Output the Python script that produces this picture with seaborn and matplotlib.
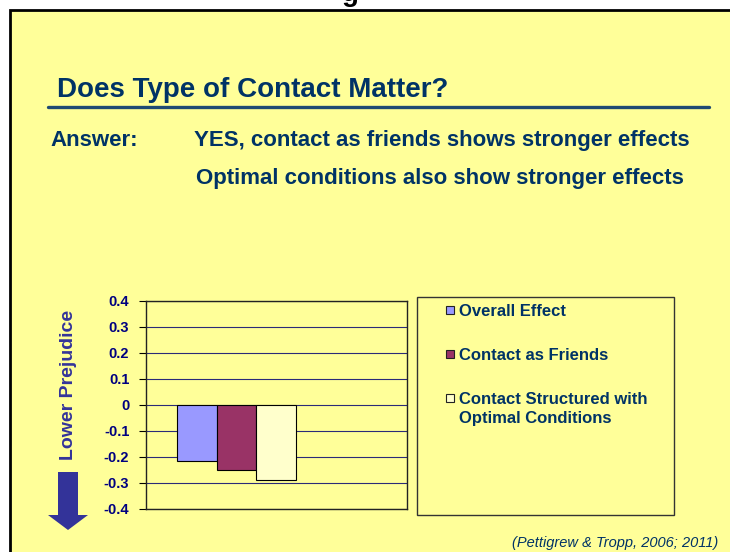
import numpy as np
import pandas as pd
import matplotlib
matplotlib.use('Agg')
import matplotlib.pyplot as plt
import seaborn as sns
from matplotlib.patches import Rectangle, Polygon
from matplotlib.lines import Line2D

# data
series = ['Overall Effect', 'Contact as Friends',
          'Contact Structured with Optimal Conditions']
legend_labels = ['Overall Effect', 'Contact as Friends',
                 'Contact Structured with\nOptimal Conditions']
values = [-0.215, -0.25, -0.29]
bar_colors = ['#9999FF', '#993366', '#FFFFCC']
y_ticks = [0.4, 0.3, 0.2, 0.1, 0.0, -0.1, -0.2, -0.3, -0.4]
y_tick_labels = ['0.4', '0.3', '0.2', '0.1', '0', '-0.1', '-0.2', '-0.3', '-0.4']

sns.set_style('white')
plt.rcParams['font.family'] = ['Liberation Sans', 'DejaVu Sans']

W, H = 730, 552
def fx(px):
    return px / W
def fy(py):
    return 1 - py / H

navy = '#003366'
yellow = '#FFFF99'

fig = plt.figure(figsize=(7.3, 5.52), dpi=100, facecolor='white')

# slide background with black left/top border
fig.add_artist(Rectangle((fx(10), -0.1), 1.2, fy(10) + 0.1, transform=fig.transFigure,
                         facecolor=yellow, edgecolor='black', lw=2, zorder=-2))

# cut-off glyph at the top of the page (only its lower part shows)
fig.text(fx(342), fy(1), 'g', fontsize=20, weight='bold', color='black', va='baseline')

# heading and rule
fig.text(fx(57), fy(97), 'Does Type of Contact Matter?', fontsize=20, weight='bold',
         color=navy, va='baseline')
fig.add_artist(Line2D([fx(48), fx(709)], [fy(107), fy(107)], color='#1f4a73', lw=2.4))

fig.text(fx(50), fy(146), 'Answer:', fontsize=16, weight='bold', color=navy, va='baseline')
fig.text(fx(194), fy(146), 'YES, contact as friends shows stronger effects', fontsize=16,
         weight='bold', color=navy, va='baseline')
fig.text(fx(196), fy(184), 'Optimal conditions also show stronger effects', fontsize=16,
         weight='bold', color=navy, va='baseline')

# chart
df = pd.DataFrame({'group': [''] * len(series), 'series': series, 'value': values})
ax = fig.add_axes([fx(146), fy(509), (407 - 146) / W, (509 - 300.7) / H])
ax.set_facecolor(yellow)
sns.barplot(data=df, x='group', y='value', hue='series', hue_order=series,
            palette=bar_colors, saturation=1, edgecolor='black', linewidth=0.8,
            legend=False, ax=ax)
ax.set_xlim(-0.608, 1.146)
ax.set_ylim(-0.4, 0.4)
ax.set_yticks(y_ticks)
ax.set_yticklabels(y_tick_labels, fontsize=10.5, weight='bold', color='#000080')
ax.set_xticks([])
ax.set_xlabel('')
ax.set_ylabel('')
ax.tick_params(axis='y', direction='out', length=5, width=0.8, color='black', pad=7, left=True)
ax.yaxis.grid(True, color='#2b2b78', lw=0.8)
ax.set_axisbelow(True)
for s in ax.spines.values():
    s.set_color('#222222')
    s.set_linewidth(1)

# side label and arrow
fig.text(fx(68.3), fy(385), 'Lower Prejudice', rotation=90, fontsize=14, weight='bold',
         color='#333399', ha='center', va='center')
arrow_px = [(58, 472), (78, 472), (78, 515), (88, 515), (68, 530), (48, 515), (58, 515)]
fig.add_artist(Polygon([(fx(x), fy(y)) for x, y in arrow_px], closed=True,
                       transform=fig.transFigure, facecolor='#333399', edgecolor='none'))

# legend box
fig.add_artist(Rectangle((fx(417), fy(515)), (674 - 417) / W, (515 - 297) / H,
                         transform=fig.transFigure, facecolor=yellow,
                         edgecolor='#333333', lw=1))
baselines = [316, 360, 404]
line_step = 19
for lab, col, b in zip(legend_labels, bar_colors, baselines):
    fig.add_artist(Rectangle((fx(446), fy(b - 2)), 8 / W, 8 / H, transform=fig.transFigure,
                             facecolor=col, edgecolor='#222222', lw=0.8))
    for i, part in enumerate(lab.split('\n')):
        fig.text(fx(459), fy(b + i * line_step), part, fontsize=12, weight='bold',
                 color=navy, va='baseline')

fig.text(fx(718), fy(547), '(Pettigrew & Tropp, 2006; 2011)', fontsize=10.5,
         style='italic', color=navy, ha='right', va='baseline')

fig.savefig('out.png', dpi=100)
